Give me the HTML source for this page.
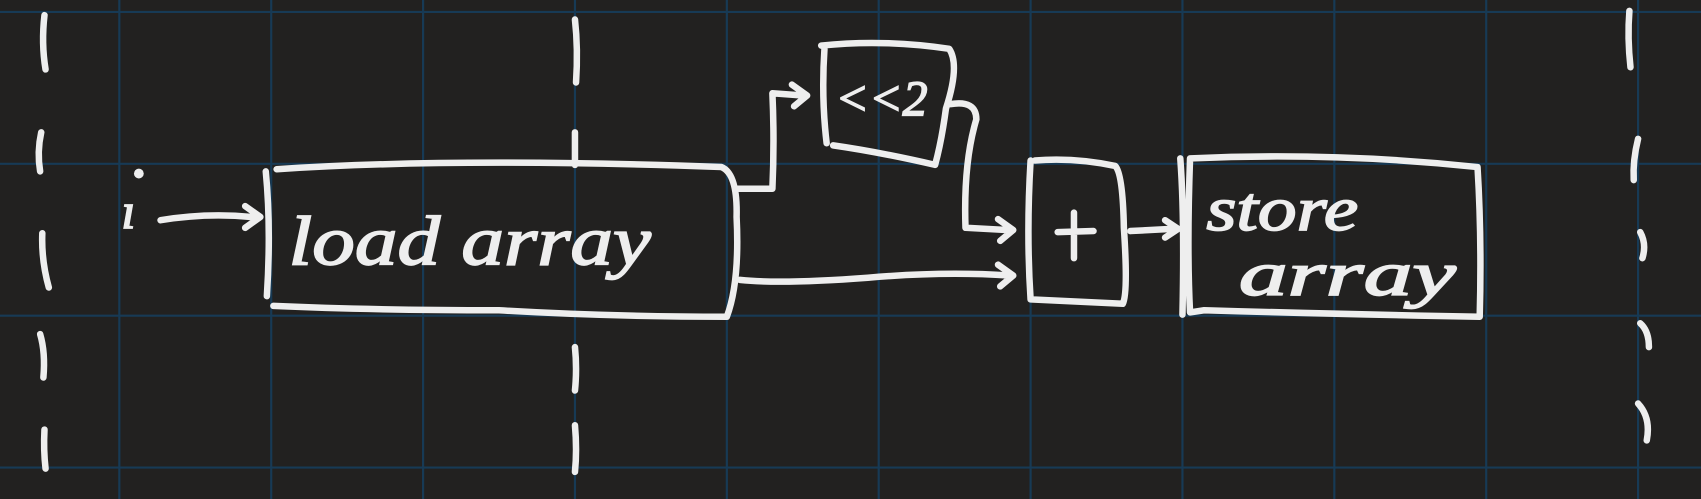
<!DOCTYPE html>
<html><head><meta charset="utf-8"><style>
html,body{margin:0;padding:0;background:#222120;width:1701px;height:499px;overflow:hidden}
svg{display:block}
text{font-family:"Liberation Serif",serif;font-style:italic;fill:#eeeeee;stroke:#eeeeee;stroke-width:1.5}
</style></head><body>
<svg width="1701" height="499" viewBox="0 0 1568 460" preserveAspectRatio="none">
<rect width="1568" height="460" fill="#222120"/>
<g stroke="#173a55" stroke-width="2">
<line x1="110" y1="0" x2="110" y2="460"/><line x1="250" y1="0" x2="250" y2="460"/><line x1="390" y1="0" x2="390" y2="460"/><line x1="530" y1="0" x2="530" y2="460"/><line x1="670" y1="0" x2="670" y2="460"/><line x1="810" y1="0" x2="810" y2="460"/><line x1="950" y1="0" x2="950" y2="460"/><line x1="1090" y1="0" x2="1090" y2="460"/><line x1="1230" y1="0" x2="1230" y2="460"/><line x1="1370" y1="0" x2="1370" y2="460"/><line x1="1510" y1="0" x2="1510" y2="460"/>
<line x1="0" y1="11" x2="1568" y2="11"/><line x1="0" y1="151" x2="1568" y2="151"/><line x1="0" y1="291" x2="1568" y2="291"/><line x1="0" y1="431" x2="1568" y2="431"/>
</g>
<g fill="none" stroke="#eeeeee" stroke-width="6" stroke-linecap="round" stroke-linejoin="round">
<g>
<path d="M41 14 Q38 40 42 64"/><path d="M38 122 Q34 140 37 158"/><path d="M39 215 Q38 240 45 265"/><path d="M37 308 Q42 325 40 348"/><path d="M41 396 Q40 415 42 432"/></g>
<g>
<path d="M530 18 Q533 45 531 76"/><path d="M530 122 L530 152"/><path d="M530 320 Q532 340 530 360"/><path d="M530 392 Q532 415 530 435"/></g>
<g>
<path d="M1502 10 Q1500 35 1503 62"/><path d="M1510 128 Q1505 148 1506 166"/><path d="M1512 214 Q1518 225 1514 238"/><path d="M1512 298 Q1520 305 1520 320"/><path d="M1510 372 Q1522 385 1518 406"/></g>
<path d="M255 156 Q420 145 665 154 Q680 160 679 200 Q682 260 670 292 Q560 292 460 286 Q340 286 252 282 M245 158 Q250 210 246 273"/>
<path d="M757 42 Q815 36 875 45 Q885 60 872 100 Q868 130 862 152 Q810 140 768 134 M760 45 Q757 90 762 132"/>
<path d="M954 148 Q990 145 1028 153 Q1035 160 1036 210 Q1040 270 1035 280 L950 276 Q946 215 950 148"/>
<path d="M1098 146 Q1230 140 1362 154 Q1366 220 1364 292 Q1250 290 1110 286 L1097 288 Q1094 230 1097 146 M1088 146 Q1092 200 1090 290"/>
<path d="M148 203 Q190 196 232 200 M226 190 L240 200 L226 210"/>
<path d="M680 174 L712 174 Q714 130 712 86 L740 88 M730 78 L744 88 L732 98"/>
<path d="M876 96 Q900 92 900 110 Q888 150 890 210 L928 212 M920 202 L934 212 L922 222"/>
<path d="M682 258 Q720 262 800 256 Q870 250 930 254 M920 244 L934 254 L922 264"/>
<path d="M1042 213 L1080 211 M1074 203 L1086 211 L1074 219"/>
<path d="M975 214 L1008 213 M990 196 L990 238"/>
</g>
<circle cx="128" cy="160" r="4.5" fill="#eeeeee"/>
<text x="112" y="210" font-size="46">ı</text>
<text x="266" y="244" font-size="64" textLength="334" lengthAdjust="spacingAndGlyphs">load array</text>
<text x="770" y="106" font-size="46">&lt;&lt;2</text>
<text x="1112" y="212" font-size="58" textLength="140" lengthAdjust="spacingAndGlyphs">store</text>
<text x="1142" y="272" font-size="58" textLength="200" lengthAdjust="spacingAndGlyphs">array</text>
</svg>
</body></html>
